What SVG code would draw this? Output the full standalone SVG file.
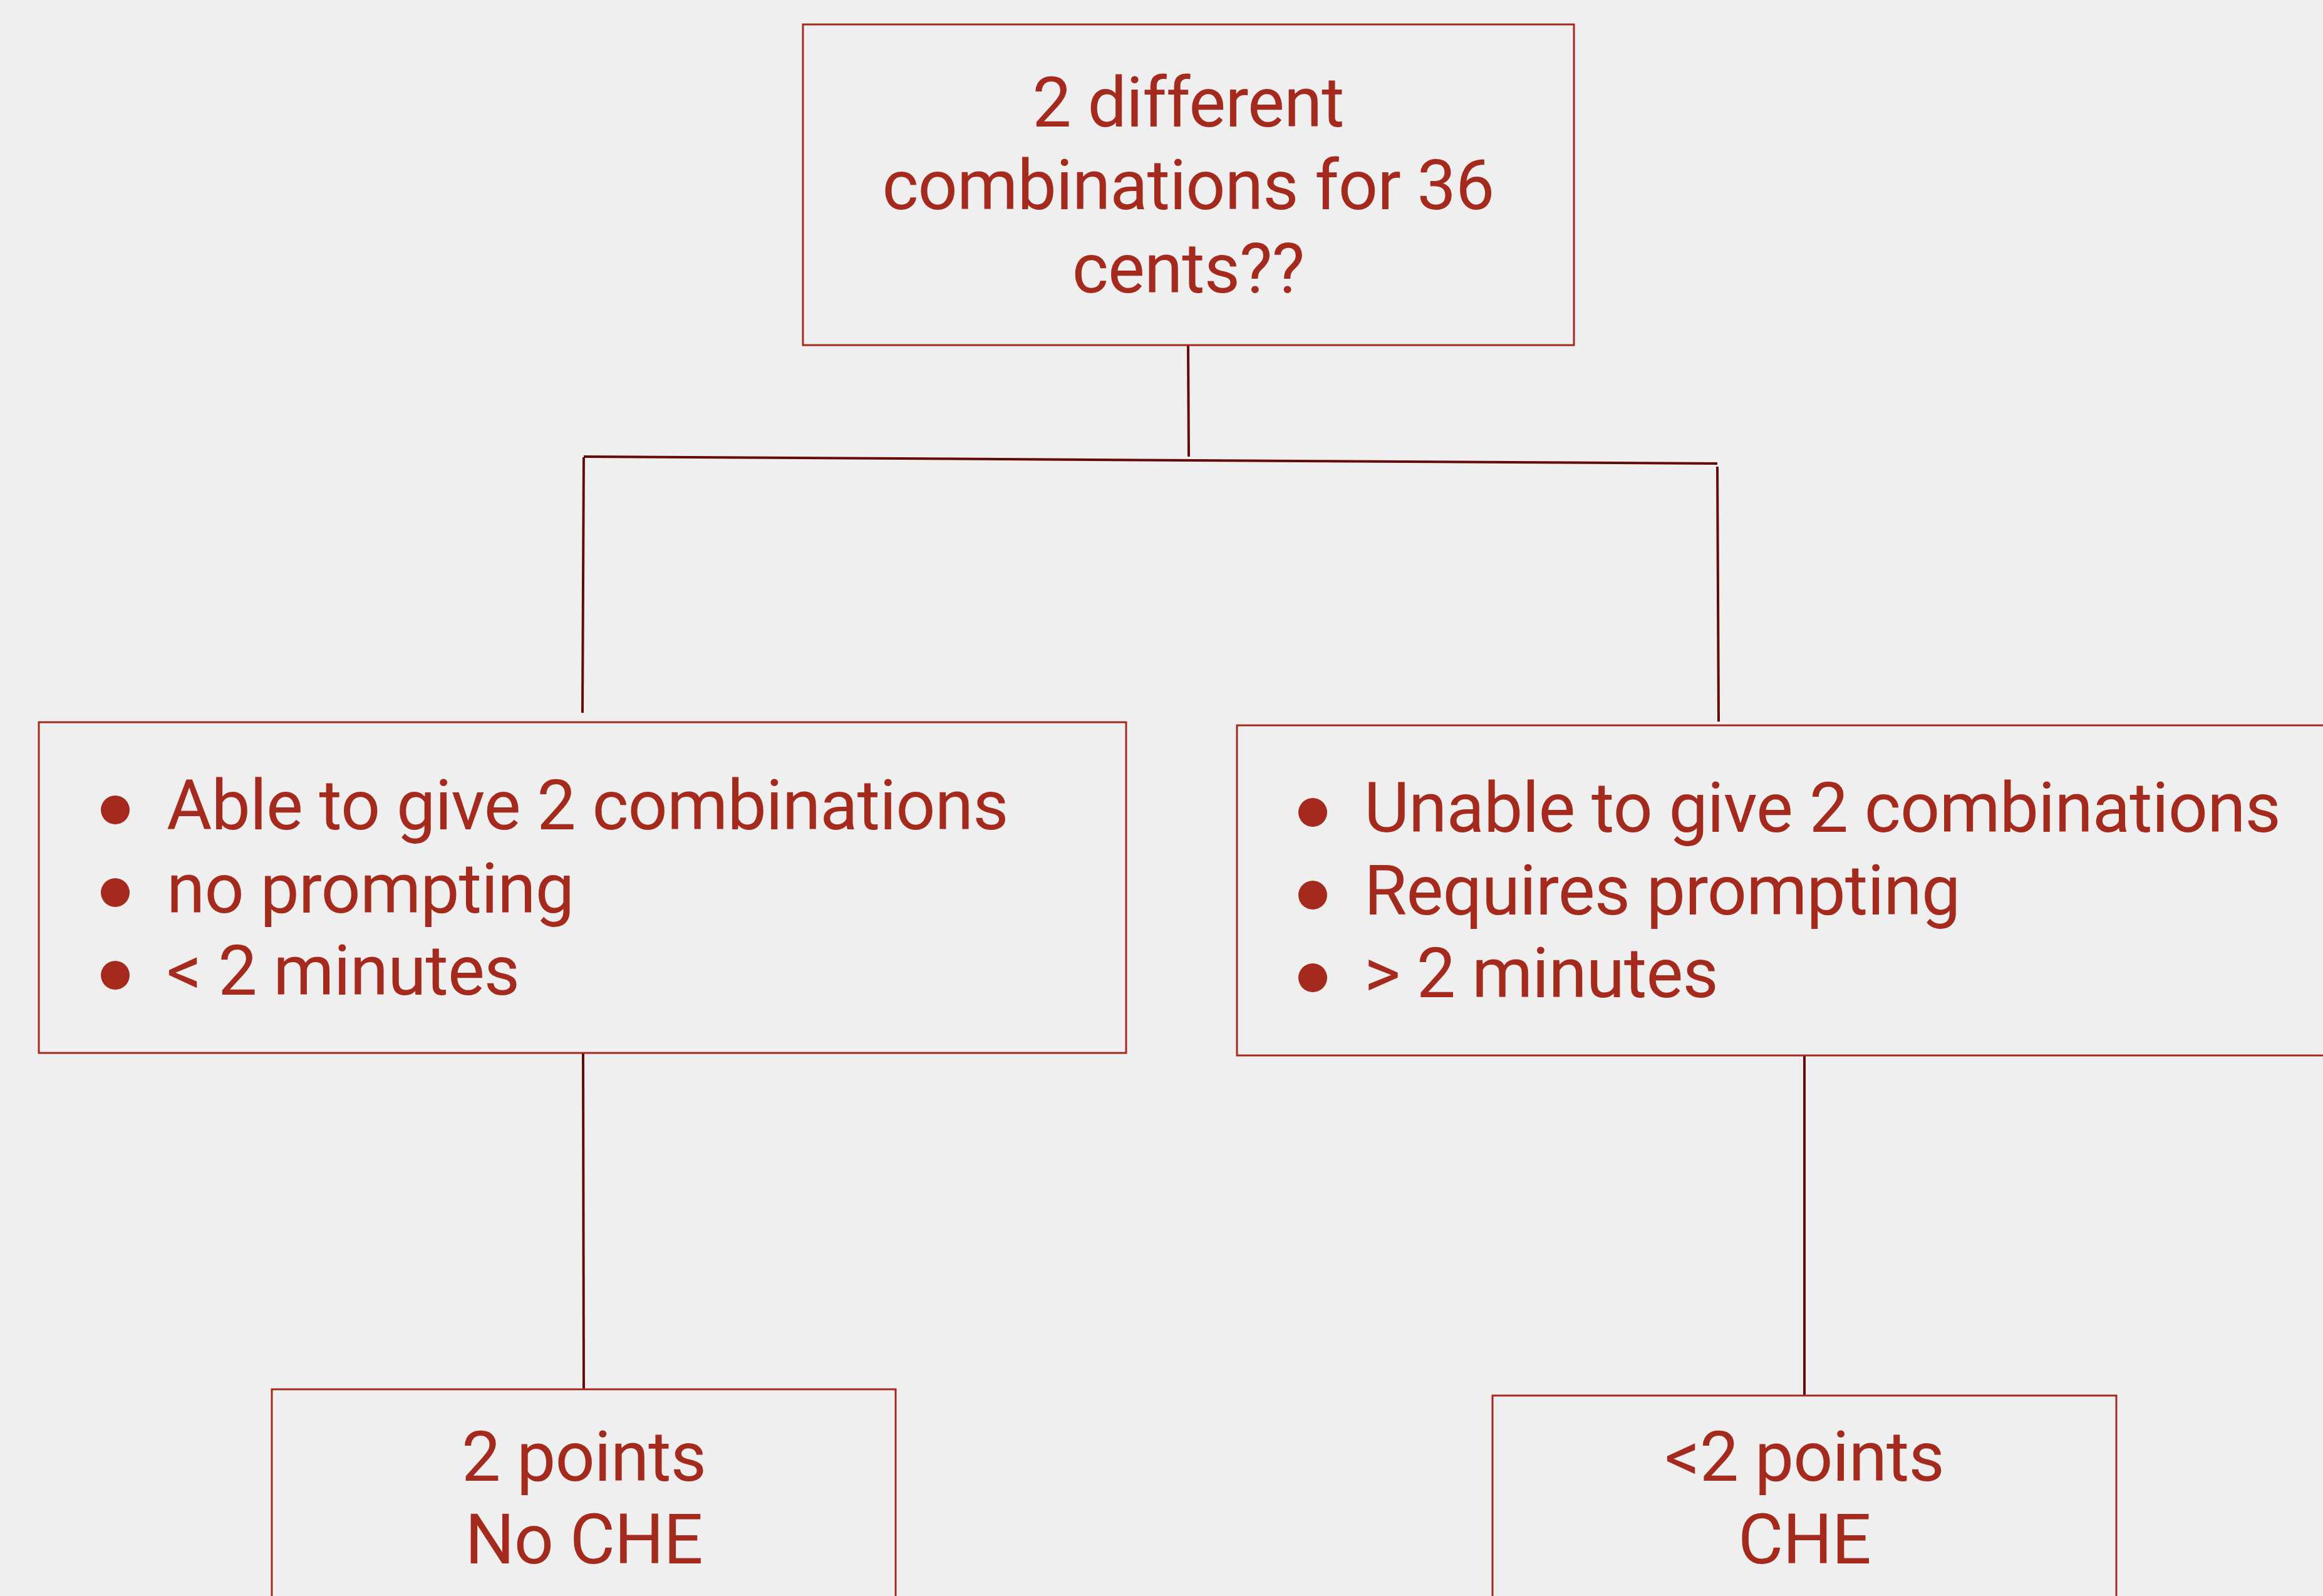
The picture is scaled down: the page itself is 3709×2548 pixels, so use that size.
<svg xmlns="http://www.w3.org/2000/svg" width="3709" height="2548" viewBox="0 0 3709 2548">
<style>
.box{fill:none;stroke:#a52a1e;stroke-width:3}
.t{font-family:Roboto,"Liberation Sans",sans-serif;font-size:111px;fill:#a52a1e;letter-spacing:-0.9px}
.c{text-anchor:middle}
.conn line{stroke:#650a0a;stroke-width:4;stroke-linecap:butt}
.dot{fill:#a52a1e}
</style>
<rect width="3709" height="2548" fill="#efefef"/>
<g class="conn" id="connectors">
<line x1="1897" y1="551" x2="1898" y2="729"/>
<line x1="932" y1="729" x2="2742" y2="740"/>
<line x1="932" y1="730" x2="930" y2="1138"/>
<line x1="2742" y1="745" x2="2744" y2="1152"/>
<line x1="931" y1="1681" x2="932" y2="2218"/>
<line x1="2881" y1="1686" x2="2881" y2="2228"/>
</g>
<g id="top">
<rect class="box" x="1282" y="39" width="1231" height="512"/>
<text class="t c" x="1897" y="202">2 different</text>
<text class="t c" x="1897" y="334">combinations for 36</text>
<text class="t c" x="1897" y="467">cents??</text>
</g>
<g id="left">
<rect class="box" x="62" y="1153" width="1736" height="528"/>
<circle class="dot" cx="184" cy="1293" r="23"/>
<circle class="dot" cx="184" cy="1425" r="23"/>
<circle class="dot" cx="184" cy="1557" r="23"/>
<text class="t" x="266" y="1324">Able to give 2 combinations</text>
<text class="t" x="266" y="1457">no prompting</text>
<text class="t" x="266" y="1588">&lt; 2 minutes</text>
</g>
<g id="right">
<rect class="box" x="1975" y="1158" width="1760" height="527"/>
<circle class="dot" cx="2096" cy="1297" r="23"/>
<circle class="dot" cx="2096" cy="1429" r="23"/>
<circle class="dot" cx="2096" cy="1561" r="23"/>
<text class="t" x="2178" y="1328">Unable to give 2 combinations</text>
<text class="t" x="2178" y="1460">Requires prompting</text>
<text class="t" x="2178" y="1592">&gt; 2 minutes</text>
</g>
<g id="bottom-left">
<rect class="box" x="434" y="2218" width="996" height="360"/>
<text class="t c" x="932" y="2364">2 points</text>
<text class="t c" x="932" y="2496">No CHE</text>
</g>
<g id="bottom-right">
<rect class="box" x="2383" y="2228" width="996" height="360"/>
<text class="t c" x="2881" y="2364">&lt;2 points</text>
<text class="t c" x="2881" y="2496">CHE</text>
</g>
</svg>
